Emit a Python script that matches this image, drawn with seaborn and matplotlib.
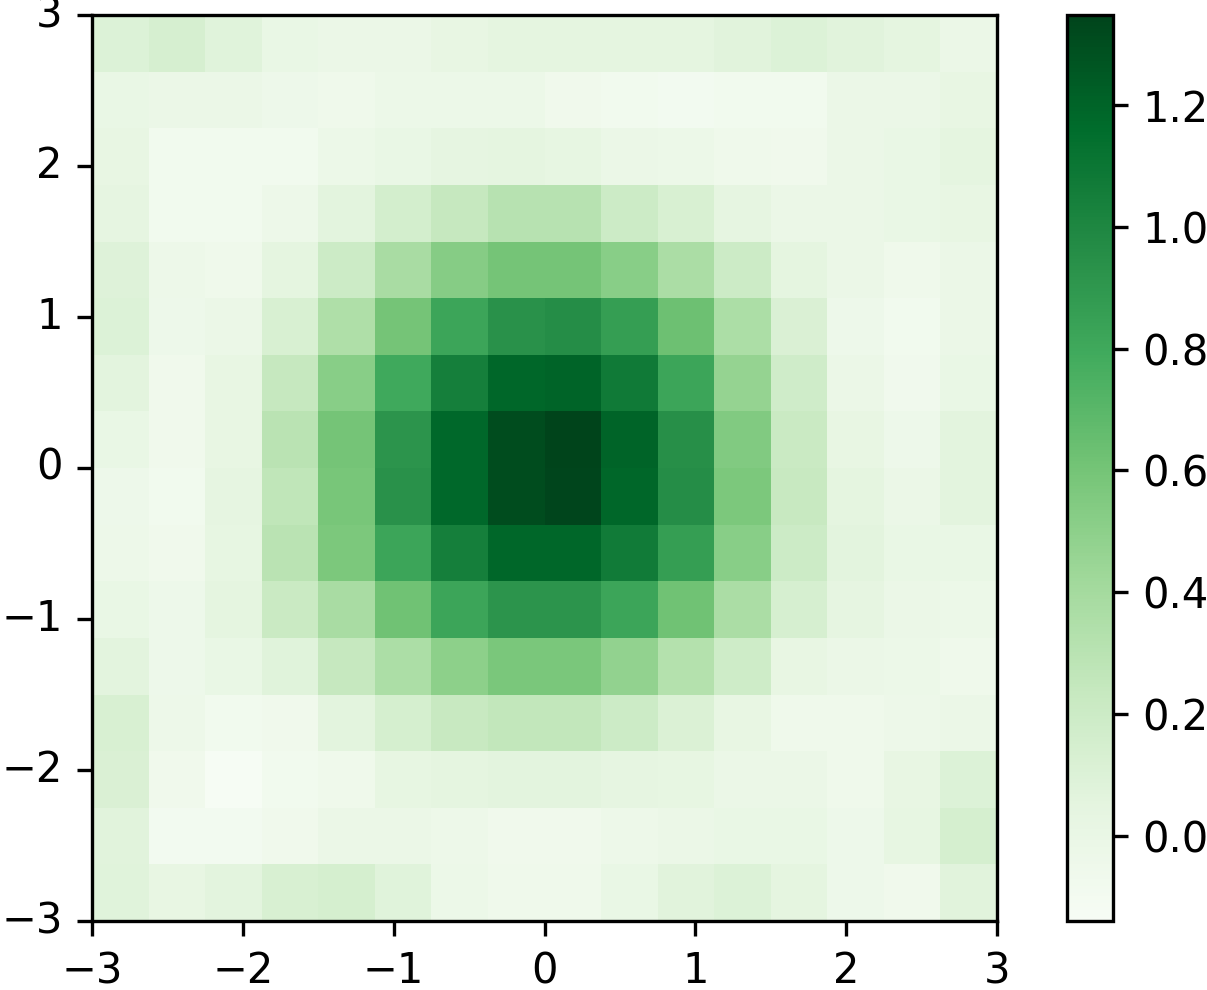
import numpy as np
import matplotlib
matplotlib.use("Agg")
import matplotlib.pyplot as plt
import seaborn as sns

row_01 = [0.10, 0.14, 0.08, 0.01, -0.01, -0.01, 0.02, 0.05, 0.05, 0.05, 0.05, 0.07, 0.10, 0.07, 0.05, -0.01]
row_02 = [0.01, -0.01, -0.01, -0.04, -0.05, -0.02, -0.02, -0.02, -0.06, -0.08, -0.09, -0.08, -0.08, -0.01, -0.01, 0.02]
row_03 = [0.02, -0.08, -0.08, -0.08, -0.02, 0.01, 0.04, 0.05, 0.03, -0.01, -0.02, -0.05, -0.06, -0.01, 0.00, 0.05]
row_04 = [0.04, -0.08, -0.08, -0.03, 0.06, 0.16, 0.24, 0.31, 0.31, 0.20, 0.13, 0.04, -0.01, -0.01, 0.00, 0.02]
row_05 = [0.09, -0.03, -0.05, 0.05, 0.20, 0.38, 0.53, 0.60, 0.60, 0.52, 0.37, 0.20, 0.05, -0.01, -0.05, -0.01]
row_06 = [0.10, -0.04, -0.01, 0.13, 0.35, 0.60, 0.82, 0.94, 0.96, 0.86, 0.63, 0.36, 0.12, -0.04, -0.08, -0.01]
row_07 = [0.06, -0.06, 0.02, 0.24, 0.52, 0.80, 1.05, 1.19, 1.20, 1.08, 0.82, 0.47, 0.18, -0.01, -0.07, 0.01]
row_08 = [0.00, -0.06, 0.02, 0.30, 0.60, 0.92, 1.18, 1.31, 1.35, 1.20, 0.95, 0.55, 0.22, 0.02, -0.04, 0.06]
row_09 = [-0.04, -0.08, 0.04, 0.27, 0.59, 0.94, 1.18, 1.31, 1.34, 1.19, 0.96, 0.57, 0.23, 0.05, -0.01, 0.06]
row_10 = [-0.03, -0.06, 0.03, 0.30, 0.57, 0.82, 1.05, 1.19, 1.19, 1.07, 0.86, 0.52, 0.20, 0.06, 0.00, 0.01]
row_11 = [0.01, -0.04, 0.05, 0.22, 0.38, 0.62, 0.82, 0.92, 0.92, 0.82, 0.62, 0.37, 0.14, 0.04, -0.01, -0.02]
row_12 = [0.06, -0.04, 0.00, 0.08, 0.24, 0.36, 0.50, 0.58, 0.58, 0.48, 0.33, 0.19, 0.02, -0.01, -0.02, -0.05]
row_13 = [0.13, -0.03, -0.08, -0.06, 0.06, 0.15, 0.23, 0.26, 0.26, 0.20, 0.11, 0.02, -0.05, -0.05, -0.03, -0.01]
row_14 = [0.12, -0.06, -0.13, -0.08, -0.05, 0.03, 0.05, 0.06, 0.06, 0.04, 0.03, -0.01, -0.01, -0.05, 0.02, 0.10]
row_15 = [0.07, -0.09, -0.09, -0.06, -0.01, -0.01, -0.03, -0.06, -0.06, -0.03, -0.01, 0.00, 0.00, -0.04, 0.03, 0.15]
row_16 = [0.08, 0.02, 0.06, 0.13, 0.15, 0.08, -0.02, -0.05, -0.05, 0.01, 0.07, 0.10, 0.05, -0.04, -0.06, 0.07]
rows = [row_01, row_02, row_03, row_04, row_05, row_06, row_07, row_08,
        row_09, row_10, row_11, row_12, row_13, row_14, row_15, row_16]

axis_ticks = [-3, -2, -1, 0, 1, 2, 3]
cbar_ticks = [0.0, 0.2, 0.4, 0.6, 0.8, 1.0, 1.2]
color_min, color_max = -0.14, 1.348

W, H, DPI = 1207, 990, 300
fig = plt.figure(figsize=(W / DPI, H / DPI), dpi=DPI)
ax = fig.add_axes([92 / W, 1 - 921 / H, 905 / W, 906 / H])
cax = fig.add_axes([1067 / W, 1 - 921 / H, 46 / W, 906 / H])

data = np.array(rows)
n = data.shape[0]
sns.heatmap(data, ax=ax, cbar_ax=cax, cmap="Greens", vmin=color_min, vmax=color_max,
            square=False, cbar_kws={"ticks": cbar_ticks})

labels = [str(v).replace("-", "\u2212") for v in axis_ticks]
ax.set_xticks([n * (v + 3) / 6 for v in axis_ticks])
ax.set_xticklabels(labels, rotation=0)
ax.set_yticks([n * (3 - v) / 6 for v in axis_ticks])
ax.set_yticklabels(labels, rotation=0)
ax.tick_params(length=3.5, width=0.8, labelsize=10, pad=3.5)
for s in ax.spines.values():
    s.set_visible(True)
    s.set_linewidth(0.8)
    s.set_color("black")

cb = ax.collections[0].colorbar
cb.outline.set_visible(True)
cb.outline.set_linewidth(0.8)
cb.outline.set_edgecolor("black")
cb.ax.tick_params(length=3.5, width=0.8, labelsize=10, pad=3.5)
cb.ax.set_yticklabels([f"{v:.1f}" for v in cbar_ticks])

fig.savefig("out.png", dpi=DPI)
